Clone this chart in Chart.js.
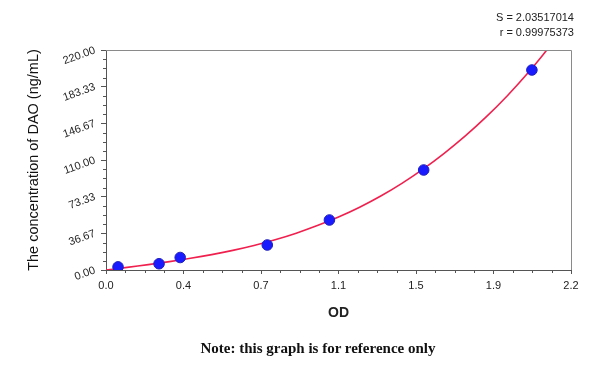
<!DOCTYPE html>
<html>
<head>
<meta charset="utf-8">
<script src="https://cdn.jsdelivr.net/npm/chart.js@4/dist/chart.umd.min.js"></script>
<style>
  html, body { margin: 0; padding: 0; background: #fff; }
  #wrap { position: relative; width: 600px; height: 365px; }
  #wrap canvas { position: absolute; left: 0; top: 0; }
  .fit { position: absolute; right: 26px; font: 11px Arial, "Liberation Sans", sans-serif; color: #222; text-align: right; line-height: 15px; top: 10px; }
  .note { position: absolute; left: 18px; width: 600px; top: 340px; text-align: center; font: bold 15px "Liberation Serif", "Times New Roman", serif; color: #111; }
</style>
</head>
<body>
<div id="wrap">
  <canvas id="stdCurve" width="600" height="365"></canvas>
  <div class="fit">S = 2.03517014<br>r = 0.99975373</div>
  <div class="note">Note: this graph is for reference only</div>
</div>
<script>
// standards (OD vs concentration)
const odValues = [0.057, 0.251, 0.351, 0.763, 1.057, 1.503, 2.015];
const concentrations = [3.12, 6.25, 12.5, 25, 50, 100, 200];

// fitted curve
const curveOD = [0, 0.1, 0.2, 0.3, 0.4, 0.5, 0.6, 0.7, 0.8, 0.9, 1.0, 1.1, 1.2, 1.3, 1.4, 1.5, 1.6, 1.7, 1.8, 1.9, 2.0, 2.1];
const curveConc = [0, 2.6, 5.4, 8.4, 11.7, 15.4, 19.6, 24.5, 30.2, 36.8, 44.4, 53.0, 62.8, 74.0, 86.7, 100.9, 116.7, 134.1, 153.3, 174.5, 197.9, 223.7];

const xTickLabels = ["0.0", "0.4", "0.7", "1.1", "1.5", "1.9", "2.2"];
const yTickLabels = ["0.00", "36.67", "73.33", "110.00", "146.67", "183.33", "220.00"];
const xMax = 2.2;
const yMax = 220;

const axisFont = { family: "Arial, 'Liberation Sans', sans-serif", size: 11 };

const evenTicks = (labels, max) => (scale) => {
  scale.ticks = labels.map((_, i) => ({ value: (i * max) / (labels.length - 1) }));
};

// frame + minor ticks
const framePlugin = {
  id: "frame",
  afterDraw(chart) {
    const { ctx, chartArea: a, scales } = chart;
    ctx.save();
    ctx.lineWidth = 1;
    ctx.strokeStyle = "#8a8a8a";
    ctx.beginPath();
    ctx.moveTo(a.left, a.top + 0.5);
    ctx.lineTo(a.right + 0.5, a.top + 0.5);
    ctx.lineTo(a.right + 0.5, a.bottom);
    ctx.stroke();

    ctx.strokeStyle = "#555";
    ctx.beginPath();
    const xs = scales.x, ys = scales.y;
    for (let i = 0; i < xTickLabels.length - 1; i++) {
      for (let k = 1; k < 4; k++) {
        const v = ((i + k / 4) * xMax) / (xTickLabels.length - 1);
        const px = Math.round(xs.getPixelForValue(v)) + 0.5;
        ctx.moveTo(px, a.bottom);
        ctx.lineTo(px, a.bottom + 3);
      }
    }
    for (let i = 0; i < yTickLabels.length - 1; i++) {
      for (let k = 1; k < 4; k++) {
        const v = ((i + k / 4) * yMax) / (yTickLabels.length - 1);
        const py = Math.round(ys.getPixelForValue(v)) + 0.5;
        ctx.moveTo(a.left, py);
        ctx.lineTo(a.left - 3, py);
      }
    }
    ctx.stroke();
    ctx.restore();
  },
};

new Chart(document.getElementById("stdCurve"), {
  type: "scatter",
  data: {
    datasets: [
      {
        label: "Standards",
        data: odValues.map((x, i) => ({ x, y: concentrations[i] })),
        pointRadius: 5.3,
        pointBackgroundColor: "#1a1aff",
        pointBorderColor: "#2020c0",
        pointBorderWidth: 1,
        order: 0,
      },
      {
        label: "Fit",
        data: curveOD.map((x, i) => ({ x, y: curveConc[i] })),
        showLine: true,
        pointRadius: 0,
        borderColor: "#f0204e",
        borderWidth: 1.6,
        tension: 0.3,
        order: 1,
      },
    ],
  },
  options: {
    responsive: false,
    animation: false,
    layout: { padding: { top: 50, right: 29, left: 0, bottom: 0 } },
    plugins: { legend: { display: false }, tooltip: { enabled: false } },
    scales: {
      x: {
        type: "linear",
        min: 0,
        max: xMax,
        afterBuildTicks: evenTicks(xTickLabels, xMax),
        afterFit: (s) => { s.height = 95; },
        ticks: {
          callback: (v, i) => xTickLabels[i],
          font: axisFont,
          color: "#222",
          padding: 5,
          maxRotation: 0,
        },
        grid: { drawOnChartArea: false, tickLength: 4, color: "#555" },
        border: { color: "#555" },
        title: {
          display: true,
          text: "OD",
          font: { family: "Arial, 'Liberation Sans', sans-serif", size: 14, weight: "bold" },
          color: "#222",
          padding: { bottom: 43 },
        },
      },
      y: {
        type: "linear",
        min: 0,
        max: yMax,
        afterBuildTicks: evenTicks(yTickLabels, yMax),
        afterFit: (s) => { s.width = 106; },
        ticks: {
          callback: (v, i) => yTickLabels[i],
          font: axisFont,
          color: "#222",
          padding: 6,
          minRotation: 20,
          maxRotation: 20,
        },
        grid: { drawOnChartArea: false, tickLength: 5, color: "#555" },
        border: { color: "#555" },
        title: {
          display: true,
          text: "The concentration of DAO (ng/mL)",
          font: { family: "Arial, 'Liberation Sans', sans-serif", size: 14.5 },
          color: "#111",
          padding: { top: 25 },
        },
      },
    },
  },
  plugins: [framePlugin],
});
</script>
</body>
</html>
